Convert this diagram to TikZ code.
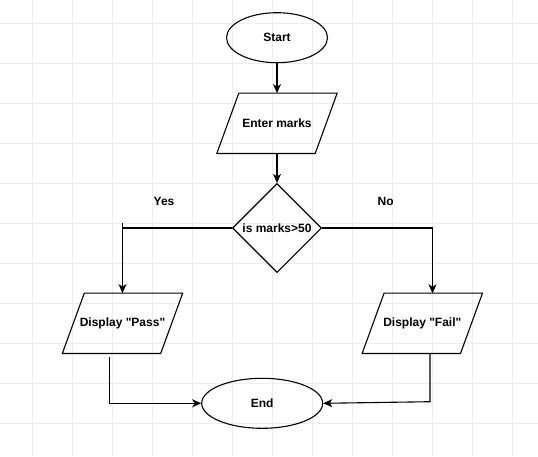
\documentclass[tikz,border=0pt]{standalone}
\usepackage{fontspec}
\setmainfont{Liberation Sans}
\usetikzlibrary{shapes.geometric,arrows.meta}
\tikzset{
  gridline/.style={draw=black!7, line width=0.7pt},
  shapeline/.style={draw=black, line width=1.1pt},
  lbl/.style={font=\fontsize{12}{14}\selectfont\bfseries, inner sep=0pt},
  termbox/.style={shapeline, ellipse, minimum height=50, inner sep=0pt, font=\fontsize{12}{14}\selectfont\bfseries},
  iobox/.style={rectangle, minimum width=98, minimum height=60, inner sep=0pt,
    font=\fontsize{12}{14}\selectfont\bfseries},
  decbox/.style={shapeline, diamond, minimum width=89, minimum height=89, inner sep=0pt},
  conn/.style={draw=black, line width=1.1pt},
  arr/.style={conn, -{Stealth[length=9pt, width=8pt, inset=2.5pt]}},
}
\newcommand{\slantbox}[1]{%
  \draw[shapeline] ([xshift=11pt]#1.north west) -- ([xshift=11pt]#1.north east)
    -- ([xshift=-11pt]#1.south east) -- ([xshift=-11pt]#1.south west) -- cycle;}
\begin{document}
\begin{tikzpicture}[x=1pt, y=-1pt]
\fill[white] (0,0) rectangle (538,456);
\useasboundingbox (0,0) rectangle (538,456);
% background grid
\foreach \i in {0,...,12} \draw[gridline] (32.5+40*\i,0) -- (32.5+40*\i,456);
\foreach \j in {0,...,10} \draw[gridline] (0,23.3+40*\j) -- (538,23.3+40*\j);

% nodes
\node[termbox, minimum width=101] (start) at (277,37.7) {Start};
\node[iobox] (enter) at (277,123.3) {Enter marks};
\slantbox{enter}
\node[decbox] (dec) at (277,228) {};
\node[lbl] (declbl) at (277,228) {is marks>50};
\node[iobox] (pass) at (122.5,323.3) {Display \textquotedbl Pass\textquotedbl};
\slantbox{pass}
\node[iobox] (fail) at (422.3,323.3) {Display \textquotedbl Fail\textquotedbl};
\slantbox{fail}
\node[termbox, minimum width=121] (end) at (262.2,403.3) {End};
\node[lbl] (yes) at (164,201.7) {Yes};
\node[lbl] (no) at (385.7,201.7) {No};

% helper points
\coordinate (ystub) at (122.5,223);
\coordinate (nturn) at (432.5,228);
\coordinate (nin) at (432.5,293.3);
\coordinate (pout) at (109.5,356.7);
\coordinate (fout) at (430,353.3);
\coordinate (fturn) at (430,401.7);

% connectors
\draw[arr] (start) -- (enter);
\draw[arr] (enter) -- (dec.north);
\draw[conn] (dec.west) -- (ystub |- dec.west);
\draw[arr] (ystub) -- (pass.north);
\draw[arr] (dec.east) -- (nturn) -- (nin);
\draw[arr] (pout) |- (end.west);
\draw[arr] (fout) -- (fturn) -- (end.east);
\end{tikzpicture}
\end{document}
